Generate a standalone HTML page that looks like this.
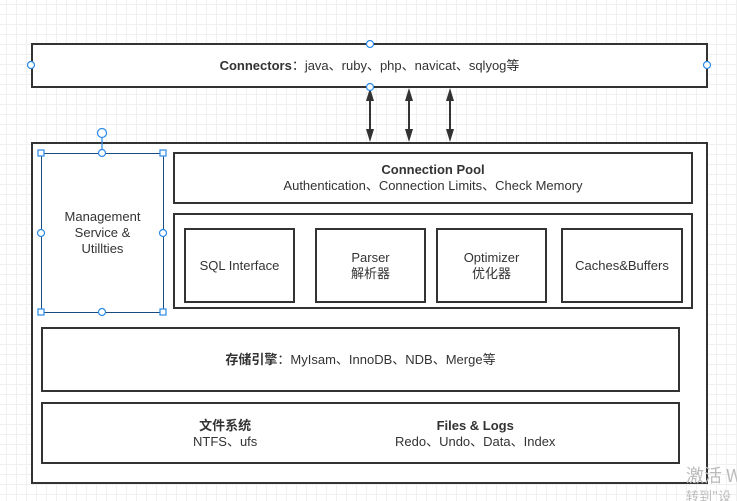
<!DOCTYPE html><html><head><style>
body{margin:0;width:737px;height:501px;overflow:hidden;background:#fff;
background-image:linear-gradient(#f0f0f0 1px,transparent 1px),linear-gradient(90deg,#f0f0f0 1px,transparent 1px);
background-size:10px 10px;background-position:-4px -6px;font-family:"Liberation Sans","Noto Sans CJK SC",sans-serif;color:#333}
.b{position:absolute;border:2px solid #333;background:#fff;box-sizing:border-box;display:flex;flex-direction:column;align-items:center;justify-content:center;text-align:center;font-size:13px;line-height:16px}
</style></head><body>
<div class="b" style="left:31px;top:43px;width:677px;height:45px"><span><b>Connectors</b>：java、ruby、php、navicat、sqlyog等</span></div>
<div class="b" style="left:31px;top:142px;width:677px;height:342px"></div>
<div class="b" style="left:41px;top:153px;width:123px;height:160px;border-color:#1a4a80;border-width:1.5px">Management<br>Service &amp;<br>Utillties</div>
<div class="b" style="left:173px;top:152px;width:520px;height:52px"><b>Connection Pool</b>Authentication、Connection Limits、Check Memory</div>
<div class="b" style="left:173px;top:213px;width:520px;height:96px"></div>
<div class="b" style="left:184px;top:228px;width:111px;height:75px">SQL Interface</div>
<div class="b" style="left:315px;top:228px;width:111px;height:75px">Parser<br>解析器</div>
<div class="b" style="left:436px;top:228px;width:111px;height:75px">Optimizer<br>优化器</div>
<div class="b" style="left:561px;top:228px;width:122px;height:75px">Caches&amp;Buffers</div>
<div class="b" style="left:41px;top:327px;width:639px;height:65px"><span><b>存储引擎</b>：MyIsam、InnoDB、NDB、Merge等</span></div>
<div class="b" style="left:41px;top:402px;width:639px;height:62px;flex-direction:row;justify-content:flex-start">
<div style="position:absolute;left:150px;top:14px;text-align:center"><b>文件系统</b><br>NTFS、ufs</div>
<div style="position:absolute;left:352px;top:14px;text-align:center"><b>Files &amp; Logs</b><br>Redo、Undo、Data、Index</div></div>
<svg style="position:absolute;left:0;top:0" width="737" height="501">
<g stroke="#333" stroke-width="2">
<line x1="370" y1="95" x2="370" y2="135"/><line x1="409" y1="95" x2="409" y2="135"/><line x1="450" y1="95" x2="450" y2="135"/></g>
<g fill="#333">
<path d="M370,88L366,101L374,101z"/><path d="M370,142L366,129L374,129z"/>
<path d="M409,88L405,101L413,101z"/><path d="M409,142L405,129L413,129z"/>
<path d="M450,88L446,101L454,101z"/><path d="M450,142L446,129L454,129z"/>
</g>
<g fill="#fff" stroke="#2a8ae8" stroke-width="1.2">
<circle cx="370" cy="44" r="3.5"/><circle cx="31" cy="65" r="3.5"/><circle cx="707" cy="65" r="3.5"/><circle cx="370" cy="87" r="3.5"/>
<line x1="102" y1="137" x2="102" y2="153"/><circle cx="102" cy="133" r="4.5"/>
<circle cx="102" cy="153" r="3.5"/><circle cx="41" cy="233" r="3.5"/><circle cx="163" cy="233" r="3.5"/><circle cx="102" cy="312" r="3.5"/>
<rect x="38" y="150" width="6" height="6"/><rect x="160" y="150" width="6" height="6"/><rect x="38" y="309" width="6" height="6"/><rect x="160" y="309" width="6" height="6"/>
</g>
<text x="686" y="482" font-size="18" fill="#bbb" font-family="Noto Sans CJK SC">激活 W</text>
<text x="686" y="501" font-size="13" fill="#bbb" font-family="Noto Sans CJK SC">转到"设</text>
</svg>
</body></html>
